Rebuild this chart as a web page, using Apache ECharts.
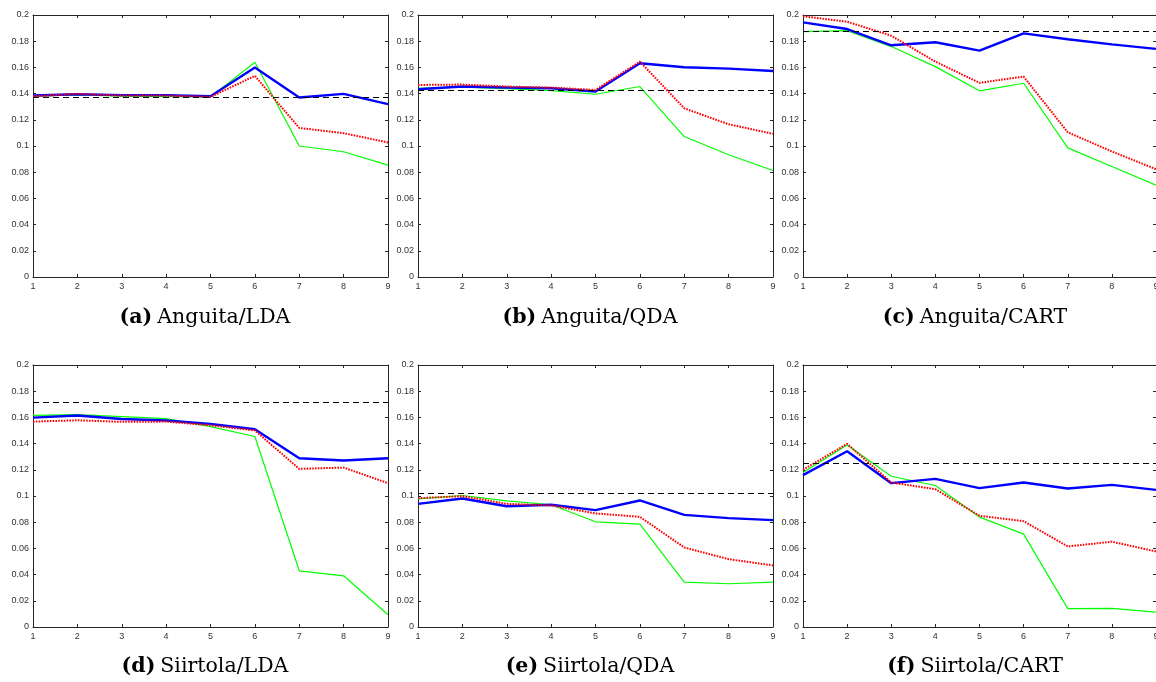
<!DOCTYPE html>
<html>
<head>
<meta charset="utf-8">
<script src="https://cdn.jsdelivr.net/npm/echarts@6/dist/echarts.min.js"></script>
<style>
html,body{margin:0;padding:0;background:#fff;}
#chart{width:1156px;height:682px;}
</style>
</head>
<body>
<div id="chart"></div>
<script>
// x positions (categories)
const xValues = [1, 2, 3, 4, 5, 6, 7, 8, 9];
// y tick range
const yMin = 0, yMax = 0.2, yStep = 0.02;

// panel captions
const panelLetters = ['(a)', '(b)', '(c)', '(d)', '(e)', '(f)'];
const panelNames = ['Anguita/LDA', 'Anguita/QDA', 'Anguita/CART', 'Siirtola/LDA', 'Siirtola/QDA', 'Siirtola/CART'];

// dashed reference levels
const baselines = [0.1372, 0.1423, 0.1878, 0.1715, 0.1022, 0.1250];

// (a) Anguita/LDA
const a_blue  = [0.1385, 0.1395, 0.1388, 0.1388, 0.1380, 0.1600, 0.1370, 0.1398, 0.1320];
const a_red   = [0.1380, 0.1398, 0.1385, 0.1385, 0.1375, 0.1535, 0.1138, 0.1098, 0.1027];
const a_green = [0.1380, 0.1390, 0.1380, 0.1377, 0.1375, 0.1640, 0.1000, 0.0956, 0.0854];
// (b) Anguita/QDA
const b_blue  = [0.1433, 0.1454, 0.1446, 0.1441, 0.1416, 0.1632, 0.1601, 0.1591, 0.1573];
const b_red   = [0.1466, 0.1469, 0.1454, 0.1446, 0.1428, 0.1644, 0.1288, 0.1166, 0.1093];
const b_green = [0.1441, 0.1449, 0.1438, 0.1423, 0.1395, 0.1454, 0.1072, 0.0933, 0.0813];
// (c) Anguita/CART
const c_blue  = [0.1944, 0.1893, 0.1769, 0.1792, 0.1728, 0.1860, 0.1815, 0.1776, 0.1741];
const c_red   = [0.1990, 0.1949, 0.1842, 0.1644, 0.1482, 0.1530, 0.1105, 0.0958, 0.0823];
const c_green = [0.1873, 0.1880, 0.1759, 0.1606, 0.1421, 0.1479, 0.0986, 0.0844, 0.0701];
// (d) Siirtola/LDA
const d_blue  = [0.1598, 0.1614, 0.1588, 0.1576, 0.1550, 0.1510, 0.1288, 0.1271, 0.1288];
const d_red   = [0.1568, 0.1578, 0.1566, 0.1568, 0.1540, 0.1500, 0.1207, 0.1217, 0.1098];
const d_green = [0.1616, 0.1621, 0.1606, 0.1591, 0.1530, 0.1454, 0.0429, 0.0391, 0.0094];
// (e) Siirtola/QDA
const e_blue  = [0.0940, 0.0981, 0.0922, 0.0933, 0.0892, 0.0966, 0.0856, 0.0831, 0.0816];
const e_red   = [0.0983, 0.0999, 0.0940, 0.0928, 0.0867, 0.0841, 0.0607, 0.0518, 0.0470];
const e_green = [0.0978, 0.1004, 0.0963, 0.0933, 0.0803, 0.0785, 0.0343, 0.0330, 0.0343];
// (f) Siirtola/CART
const f_blue  = [0.1159, 0.1342, 0.1098, 0.1131, 0.1060, 0.1103, 0.1057, 0.1085, 0.1047];
const f_red   = [0.1200, 0.1398, 0.1103, 0.1052, 0.0849, 0.0808, 0.0615, 0.0651, 0.0577];
const f_green = [0.1179, 0.1390, 0.1151, 0.1080, 0.0839, 0.0709, 0.0140, 0.0142, 0.0114];

const blueSets  = [a_blue, b_blue, c_blue, d_blue, e_blue, f_blue];
const redSets   = [a_red, b_red, c_red, d_red, e_red, f_red];
const greenSets = [a_green, b_green, c_green, d_green, e_green, f_green];

// layout
const gridLefts = [33, 418, 803];
const gridWidths = [355, 355, 353];
const gridTops = [15, 365];
const gridH = 262;
const captionCenters = [200, 585, 970];
const captionTops = [302, 651];

const axisColor = '#262626';
const pairs = arr => xValues.map((x, i) => [x, arr[i]]);

const grids = [], xAxes = [], yAxes = [], series = [], titles = [];
for (let p = 0; p < 6; p++) {
  const col = p % 3, row = Math.floor(p / 3);
  grids.push({ left: gridLefts[col], top: gridTops[row], width: gridWidths[col], height: gridH,
    containLabel: false, outerBoundsMode: 'none' });
  const baseX = {
    type: 'value', gridIndex: p, min: xValues[0], max: xValues[xValues.length - 1], interval: 1,
    axisLine: { show: true, onZero: false, lineStyle: { color: axisColor, width: 1 } },
    axisTick: { show: true, inside: true, length: 3, lineStyle: { color: axisColor } },
    splitLine: { show: false }
  };
  xAxes.push(Object.assign({}, baseX, { position: 'bottom',
    axisLabel: { show: true, fontSize: 9, color: '#333', margin: 5, fontFamily: 'Liberation Sans',
      hideOverlap: false, showMaxLabel: true, showMinLabel: true } }));
  xAxes.push(Object.assign({}, baseX, { position: 'top', axisLabel: { show: false } }));
  const baseY = {
    type: 'value', gridIndex: p, min: yMin, max: yMax, interval: yStep,
    axisLine: { show: true, onZero: false, lineStyle: { color: axisColor, width: 1 } },
    axisTick: { show: true, inside: true, length: 3, lineStyle: { color: axisColor } },
    splitLine: { show: false }
  };
  yAxes.push(Object.assign({}, baseY, { position: 'left',
    axisLabel: { show: true, fontSize: 9, color: '#333', margin: 4, fontFamily: 'Liberation Sans',
      formatter: v => String(Math.round(v * 100) / 100) } }));
  yAxes.push(Object.assign({}, baseY, { position: 'right', axisLabel: { show: false } }));

  const xi = p * 2, yi = p * 2;
  series.push({ type: 'line', xAxisIndex: xi, yAxisIndex: yi, data: pairs(blueSets[p]), symbol: 'none',
    lineStyle: { color: '#0000ff', width: 2.4 }, z: 3 });
  series.push({ type: 'line', xAxisIndex: xi, yAxisIndex: yi, data: pairs(redSets[p]), symbol: 'none',
    lineStyle: { color: '#ff0000', width: 2, type: [1.6, 1.2] }, z: 4 });
  series.push({ type: 'line', xAxisIndex: xi, yAxisIndex: yi, data: pairs(greenSets[p]), symbol: 'none',
    lineStyle: { color: '#00ff00', width: 1.2 }, z: 2 });
  series.push({ type: 'line', xAxisIndex: xi, yAxisIndex: yi, data: [], symbol: 'none', z: 5,
    markLine: { silent: true, symbol: 'none', precision: 5, label: { show: false },
      lineStyle: { color: '#000', width: 1.1, type: [6, 4] },
      data: [{ yAxis: baselines[p] }] } });

  titles.push({
    text: '{b|' + panelLetters[p] + '} {n|' + panelNames[p] + '}',
    left: captionCenters[col], top: captionTops[row], textAlign: 'center',
    textStyle: { rich: {
      b: { fontFamily: 'DejaVu Serif', fontWeight: 'bold', fontSize: 20.5, color: '#000' },
      n: { fontFamily: 'DejaVu Serif', fontWeight: 'normal', fontSize: 20.5, color: '#000' }
    } }
  });
}

const chart = echarts.init(document.getElementById('chart'), null, { renderer: 'canvas' });
chart.setOption({
  animation: false,
  backgroundColor: '#fff',
  title: titles,
  grid: grids,
  xAxis: xAxes,
  yAxis: yAxes,
  series: series
});
</script>
</body>
</html>
